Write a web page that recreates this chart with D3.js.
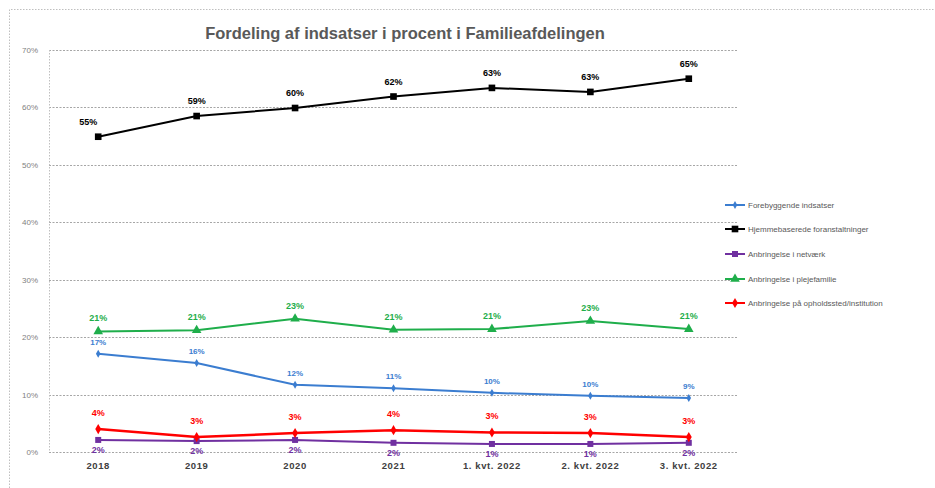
<!DOCTYPE html>
<html lang="da">
<head>
<meta charset="UTF-8">
<title>Fordeling af indsatser i procent i Familieafdelingen</title>
<style>
  body { margin: 0; padding: 0; background: #fff; overflow: hidden; }
  svg { font-family: "Liberation Sans", Arial, sans-serif; }
</style>
</head>
<body>
<div id="chart"></div>
<script src="https://d3js.org/d3.v7.min.js"></script>
<script>
// data
const categories = ["2018", "2019", "2020", "2021", "1. kvt. 2022", "2. kvt. 2022", "3. kvt. 2022"];
const forebyggende = [0.171, 0.155, 0.117, 0.111, 0.103, 0.098, 0.094];
const hjemmebaserede = [0.549, 0.585, 0.599, 0.619, 0.634, 0.627, 0.650];
const netvaerk = [0.021, 0.019, 0.021, 0.016, 0.014, 0.014, 0.016];
const plejefamilie = [0.210, 0.212, 0.232, 0.213, 0.214, 0.228, 0.214];
const institution = [0.040, 0.026, 0.033, 0.038, 0.034, 0.033, 0.026];
const seriesNames = [
  "Forebyggende indsatser",
  "Hjemmebaserede foranstaltninger",
  "Anbringelse i netværk",
  "Anbringelse i plejefamilie",
  "Anbringelse på opholdssted/institution"
];
const yTicks = [0, 0.1, 0.2, 0.3, 0.4, 0.5, 0.6, 0.7];

const series = [
  { name: seriesNames[0], values: forebyggende, color: "#3b7dd0", marker: "diamond", size: 18, width: 2, labelDy: -9, labelSize: 8 },
  { name: seriesNames[1], values: hjemmebaserede, color: "#000000", marker: "square", size: 44, width: 2, labelDy: -12, labelSize: 9 },
  { name: seriesNames[2], values: netvaerk, color: "#7030a0", marker: "square", size: 36, width: 2, labelDy: 13, labelSize: 9 },
  { name: seriesNames[3], values: plejefamilie, color: "#1fae4b", marker: "triangle", size: 40, width: 2, labelDy: -10, labelSize: 9 },
  { name: seriesNames[4], values: institution, color: "#ff0000", marker: "diamond", size: 30, width: 2.5, labelDy: -13, labelSize: 9 }
];

const W = 935, H = 488;
const plot = { left: 49, right: 738, top: 50, bottom: 452 };

const svg = d3.select("#chart").append("svg")
  .attr("width", W).attr("height", H);

// outer chart border (dotted)
svg.append("path")
  .attr("d", `M9.5,${H} L9.5,9.5 L${W},9.5`)
  .attr("fill", "none")
  .attr("stroke", "#bfbfbf")
  .attr("stroke-dasharray", "1.5,1.5");

const x = d3.scaleBand().domain(categories).range([plot.left, plot.right]).padding(0);
const cx = d => x(d) + x.bandwidth() / 2;
const y = d3.scaleLinear().domain([0, 0.7]).range([plot.bottom, plot.top]);

// title
svg.append("text")
  .attr("x", 405).attr("y", 39)
  .attr("text-anchor", "middle")
  .attr("font-size", 16.5).attr("font-weight", "bold")
  .attr("fill", "#595959")
  .text("Fordeling af indsatser i procent i Familieafdelingen");

// gridlines
svg.append("g").selectAll("line")
  .data(yTicks)
  .enter().append("line")
  .attr("x1", plot.left).attr("x2", plot.right)
  .attr("y1", d => Math.round(y(d)) + 0.5).attr("y2", d => Math.round(y(d)) + 0.5)
  .attr("stroke", "#a6a6a6")
  .attr("stroke-width", 1.2)
  .attr("stroke-dasharray", "2,1.5");

// left axis line
svg.append("line")
  .attr("x1", plot.left + 0.5).attr("x2", plot.left + 0.5)
  .attr("y1", plot.top).attr("y2", plot.bottom)
  .attr("stroke", "#bfbfbf")
  .attr("stroke-dasharray", "1.5,1.5");

// y axis labels
const yAxis = d3.axisLeft(y).tickValues(yTicks).tickFormat(d3.format(".0%")).tickSize(0).tickPadding(11);
const gy = svg.append("g").attr("transform", `translate(${plot.left},0)`).call(yAxis);
gy.select(".domain").remove();
gy.selectAll("text").attr("font-size", 8).attr("fill", "#7f7f7f").attr("font-family", "Liberation Sans, Arial, sans-serif");

// x axis labels
const xAxis = d3.axisBottom(x).tickSize(0).tickPadding(10);
const gx = svg.append("g").attr("transform", `translate(0,${plot.bottom})`).call(xAxis);
gx.select(".domain").remove();
gx.selectAll("text").attr("font-size", 9.5).attr("fill", "#404040").attr("font-weight", "bold")
  .attr("letter-spacing", "0.6").attr("font-family", "Liberation Sans, Arial, sans-serif");

// lines + markers + labels
const line = d3.line().x((d, i) => cx(categories[i])).y(d => y(d));
const symbols = { diamond: d3.symbolDiamond, square: d3.symbolSquare, triangle: d3.symbolTriangle };

series.forEach(s => {
  svg.append("path")
    .datum(s.values)
    .attr("fill", "none")
    .attr("stroke", s.color)
    .attr("stroke-width", s.width)
    .attr("d", line);

  svg.append("g").selectAll("path")
    .data(s.values)
    .enter().append("path")
    .attr("transform", (d, i) => `translate(${cx(categories[i])},${y(d)})`)
    .attr("d", d3.symbol().type(symbols[s.marker]).size(s.size))
    .attr("fill", s.color);

  svg.append("g").selectAll("text")
    .data(s.values)
    .enter().append("text")
    .attr("x", (d, i) => cx(categories[i]) - (s.name === seriesNames[1] && i === 0 ? 10 : 0))
    .attr("y", d => y(d) + s.labelDy)
    .attr("text-anchor", "middle")
    .attr("font-size", s.labelSize)
    .attr("font-weight", "bold")
    .attr("fill", s.color)
    .text(d => Math.round(d * 100) + "%");
});

// legend
const legend = svg.append("g").attr("transform", "translate(725,0)");
const legendY = [205, 229, 254, 279, 303];
series.forEach((s, i) => {
  const g = legend.append("g").attr("transform", `translate(0,${legendY[i]})`);
  g.append("line").attr("x1", 0).attr("x2", 20).attr("stroke", s.color).attr("stroke-width", 2);
  g.append("path").attr("transform", "translate(10,0)")
    .attr("d", d3.symbol().type(symbols[s.marker]).size(s.size)).attr("fill", s.color);
  g.append("text").attr("x", 23).attr("y", 3)
    .attr("font-size", 8).attr("fill", "#595959")
    .text(s.name);
});
</script>
</body>
</html>
